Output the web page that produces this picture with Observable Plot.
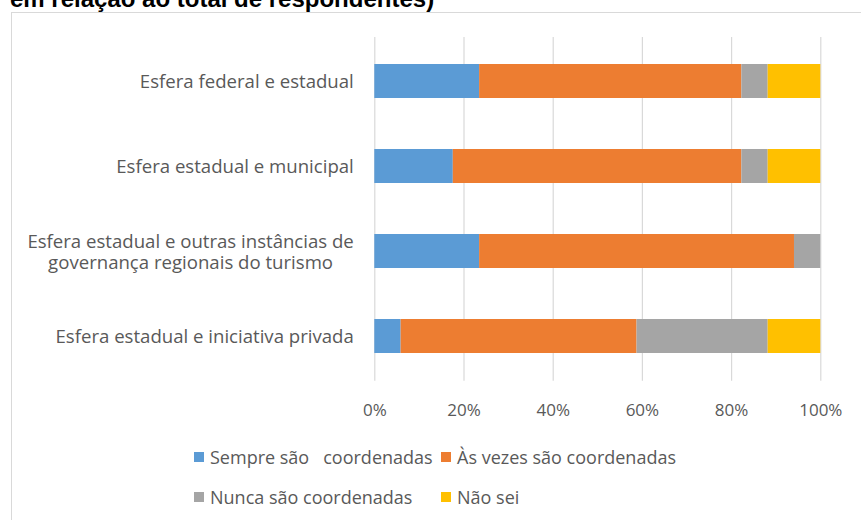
<!DOCTYPE html>
<html>
<head>
<meta charset="utf-8">
<script src="https://cdn.jsdelivr.net/npm/d3@7"></script>
<script src="https://cdn.jsdelivr.net/npm/@observablehq/plot@0.6"></script>
<style>
  html, body { margin: 0; padding: 0; background: #fff; width: 861px; height: 520px; overflow: hidden; }
  #wrap { position: relative; width: 861px; height: 520px; }
  #title { position: absolute; left: 10px; top: -13px; font: bold 24px/24px "Liberation Sans", Arial, sans-serif; color: #000; white-space: nowrap; }
  #frame { position: absolute; left: 11px; top: 12px; width: 900px; height: 600px; border: 1.5px solid #d9d9d9; box-sizing: border-box; }
  #chart { position: absolute; left: 0; top: 0; }
  .leg { position: absolute; font: 18px "Open Sans", sans-serif; color: #595959; white-space: pre; display: flex; align-items: center; line-height: 20px; }
  .sw { width: 10px; height: 10px; margin-right: 6px; display: inline-block; }
</style>
</head>
<body>
<div id="wrap">
  <div id="frame"></div>
  <div id="title">em relação ao total de respondentes)</div>
  <div id="chart"></div>
  <div id="legend"></div>
</div>
<script>
const categories = [
  "Esfera federal e estadual",
  "Esfera estadual e municipal",
  "Esfera estadual e outras instâncias de\ngovernança regionais do turismo",
  "Esfera estadual e iniciativa privada"
];
const seriesNames = ["Sempre são   coordenadas", "Às vezes são coordenadas", "Nunca são coordenadas", "Não sei"];
const sempre  = [23.5, 17.6, 23.5, 5.9];
const asVezes = [58.8, 64.7, 70.6, 52.9];
const nunca   = [5.9, 5.9, 5.9, 29.4];
const naoSei  = [11.8, 11.8, 0, 11.8];
const xTicks = [0, 20, 40, 60, 80, 100];
const colors = ["#5B9BD5", "#ED7D31", "#A5A5A5", "#FFC000"];

const seriesValues = [sempre, asVezes, nunca, naoSei];
const data = [];
categories.forEach((c, i) => {
  seriesNames.forEach((s, j) => data.push({cat: c, series: s, value: seriesValues[j][i]}));
});

const chart = Plot.plot({
  width: 861,
  height: 430,
  marginLeft: 374.3,
  marginRight: 40.7,
  marginTop: 37,
  marginBottom: 49.3,
  style: {fontFamily: "Open Sans, sans-serif", fontSize: "17px", color: "#595959", background: "transparent"},
  x: {domain: [0, 100], ticks: xTicks, tickFormat: d => d + "%"},
  y: {domain: categories, paddingInner: 0.6, paddingOuter: 0.3},
  color: {domain: seriesNames, range: colors},
  marks: [
    Plot.gridX(xTicks, {stroke: "#d9d9d9", strokeOpacity: 1, strokeWidth: 1.2}),
    Plot.barX(data, {x: "value", y: "cat", fill: "series", inset: 0}),
    Plot.axisX({ticks: xTicks, tickSize: 0, tickPadding: 23, tickFormat: d => d + "%", label: null, fill: "#595959", fontSize: 17}),
    Plot.axisY({tickSize: 0, tickPadding: 21, label: null, lineHeight: 1.15, fill: "#595959", fontSize: 18.6})
  ]
});
document.getElementById("chart").appendChild(chart);

// center multi-line y tick labels (as in the original)
chart.querySelectorAll("g[aria-label='y-axis tick label'] text").forEach(t => {
  const spans = t.querySelectorAll("tspan");
  if (spans.length > 1) {
    const w = t.getBBox().width;
    t.setAttribute("text-anchor", "middle");
    const tr = t.getAttribute("transform") || "";
    t.setAttribute("transform", tr + ` translate(${-w / 2},0)`);
  }
});

// legend
const legendPos = [[194, 457], [441, 457], [194, 497], [441, 497]];
const leg = document.getElementById("legend");
seriesNames.forEach((s, i) => {
  const d = document.createElement("div");
  d.className = "leg";
  d.style.left = legendPos[i][0] + "px";
  d.style.top = (legendPos[i][1] - 10) + "px";
  d.innerHTML = `<span class="sw" style="background:${colors[i]}"></span>`;
  d.appendChild(document.createTextNode(s));
  leg.appendChild(d);
});
</script>
</body>
</html>
